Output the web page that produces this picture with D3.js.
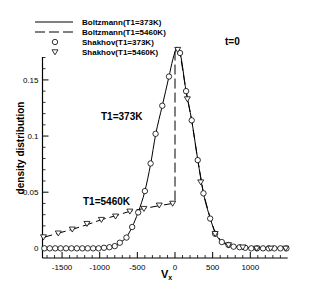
<!DOCTYPE html>
<html>
<head>
<meta charset="utf-8">
<script src="https://cdn.jsdelivr.net/npm/d3@7"></script>
<style>
  body { margin: 0; background: #fff; }
  svg { display: block; font-family: "Liberation Sans", Arial, sans-serif; }
</style>
</head>
<body>
<script>
// chart data
var xMajor = [-1500, -1000, -500, 0, 500, 1000];
var yMajor = [0, 0.05, 0.1, 0.15];
var yLabels = ["0", "0.05", "0.1", "0.15"];

// Boltzmann(T1=373K), solid line
var b373Vx = [-1760, -1400, -1100, -950, -880, -800, -733, -650, -570, -490, -400, -324, -258, -169, -80, -30, 0, 22, 67, 147, 222, 302, 378, 467, 533, 622, 711, 800, 900, 1100, 1497];
var b373Y = [0, 0, 0, 0.0005, 0.001, 0.002, 0.005, 0.0095, 0.019, 0.032, 0.051, 0.075, 0.101, 0.127, 0.153, 0.168, 0.175, 0.179, 0.174, 0.140, 0.114, 0.079, 0.049, 0.027, 0.014, 0.0056, 0.003, 0.0015, 0.0008, 0.0003, 0];

// Boltzmann(T1=5460K), dashed line
var b5460Vx = [-1760, -1550, -1360, -1170, -980, -790, -600, -410, -210, -30, 0, 0, 22, 67, 147, 222, 302, 378, 467, 533, 622, 711, 800, 900, 1100, 1497];
var b5460Y = [0.0095, 0.0135, 0.017, 0.021, 0.0255, 0.029, 0.033, 0.0355, 0.038, 0.040, 0.040, 0.175, 0.179, 0.174, 0.140, 0.114, 0.079, 0.049, 0.027, 0.014, 0.0056, 0.003, 0.0015, 0.0008, 0.0003, 0];

// Shakhov(T1=373K), circles
var s373Vx = [-1735, -1663, -1591, -1519, -1447, -1375, -1303, -1231, -1159, -1087, -1015, -943, -871, -800, -733, -645, -569, -489, -400, -324, -258, -169, -80, 67, 147, 222, 302, 378, 467, 533, 622, 711, 778, 858, 933, 1013, 1089, 1169, 1244, 1320, 1400, 1480];
var s373Y = [0, 0, 0, 0, 0, 0, 0, 0, 0, 0, 0, 0.0005, 0.001, 0.002, 0.005, 0.0096, 0.019, 0.032, 0.051, 0.0756, 0.102, 0.127, 0.153, 0.174, 0.140, 0.114, 0.0786, 0.049, 0.0265, 0.013, 0.0056, 0.003, 0.0015, 0.001, 0.0005, 0, 0, 0, 0, 0, 0, 0];

// Shakhov(T1=5460K), triangles
var s5460Vx = [-1747, -1550, -1364, -1169, -978, -790, -600, -413, -209, -31, 36, 164, 342, 533, 711, 900, 1085, 1270, 1470];
var s5460Y = [0.0101, 0.0135, 0.017, 0.022, 0.0256, 0.0286, 0.033, 0.0354, 0.0384, 0.040, 0.177, 0.133, 0.059, 0.013, 0.003, 0.001, 0, 0, 0];

var W = 327, H = 291;
var svg = d3.select("body").append("svg").attr("width", W).attr("height", H);

var x = d3.scaleLinear().domain([-1760, 1497]).range([42.5, 287.7]);
var y = d3.scaleLinear().domain([-0.0086, 0.19]).range([258, 35]);

// x axis, ticks pointing inward
var xMinor = d3.range(-1700, 1500, 100).filter(function (v) { return v % 500 != 0; });
var gx = svg.append("g").attr("transform", "translate(0,258)");
gx.append("line").attr("x1", x.range()[0]).attr("x2", x.range()[1]).attr("stroke", "#000").attr("stroke-width", 1.2);
gx.selectAll("line.minor").data(xMinor).enter().append("line").attr("class", "minor")
  .attr("x1", function (d) { return x(d); }).attr("x2", function (d) { return x(d); })
  .attr("y1", 0).attr("y2", -3).attr("stroke", "#000").attr("stroke-width", 0.8);
gx.selectAll("line.major").data(xMajor).enter().append("line").attr("class", "major")
  .attr("x1", function (d) { return x(d); }).attr("x2", function (d) { return x(d); })
  .attr("y1", 0).attr("y2", -6).attr("stroke", "#000").attr("stroke-width", 1);
gx.selectAll("text").data(xMajor).enter().append("text")
  .attr("x", function (d) { return x(d); }).attr("y", 12)
  .attr("text-anchor", "middle").attr("font-size", 8).text(function (d) { return d; });

// y axis
var yMinor = d3.range(0, 0.191, 0.01).filter(function (v) { return Math.round(v * 100) % 5 != 0; });
var gy = svg.append("g").attr("transform", "translate(42.5,0)");
gy.append("line").attr("y1", y.range()[0]).attr("y2", y.range()[1]).attr("stroke", "#000").attr("stroke-width", 1.2);
gy.selectAll("line.minor").data(yMinor).enter().append("line").attr("class", "minor")
  .attr("y1", function (d) { return y(d); }).attr("y2", function (d) { return y(d); })
  .attr("x1", 0).attr("x2", 3).attr("stroke", "#000").attr("stroke-width", 0.8);
gy.selectAll("line.major").data(yMajor).enter().append("line").attr("class", "major")
  .attr("y1", function (d) { return y(d); }).attr("y2", function (d) { return y(d); })
  .attr("x1", 0).attr("x2", 6).attr("stroke", "#000").attr("stroke-width", 1);
gy.selectAll("text").data(yMajor).enter().append("text")
  .attr("x", -4).attr("y", function (d) { return y(d) + 3; })
  .attr("text-anchor", "end").attr("font-size", 8).text(function (d, i) { return yLabels[i]; });

// axis titles
svg.append("text").attr("transform", "translate(24,148) rotate(-90)")
  .attr("text-anchor", "middle").attr("font-size", 10).attr("font-weight", "bold")
  .text("density distribution");
var vx = svg.append("text").attr("x", 161).attr("y", 278).attr("font-size", 11).attr("font-weight", "bold");
vx.append("tspan").text("V");
vx.append("tspan").attr("font-size", 7).attr("dy", 2).text("x");

// curves
var line = d3.line().x(function (d) { return x(d[0]); }).y(function (d) { return y(d[1]); });
svg.append("path").datum(d3.zip(b373Vx, b373Y)).attr("d", line.curve(d3.curveMonotoneX))
  .attr("fill", "none").attr("stroke", "#000").attr("stroke-width", 1);
svg.append("path").datum(d3.zip(b5460Vx, b5460Y)).attr("d", line.curve(d3.curveLinear))
  .attr("fill", "none").attr("stroke", "#000").attr("stroke-width", 1).attr("stroke-dasharray", "10,4");

// markers
function tri(cx, cy) {
  return "M" + (cx - 3) + "," + (cy - 2.2) + "L" + (cx + 3) + "," + (cy - 2.2) + "L" + cx + "," + (cy + 2.8) + "Z";
}
svg.selectAll("circle.s373").data(d3.zip(s373Vx, s373Y)).enter().append("circle").attr("class", "s373")
  .attr("cx", function (d) { return x(d[0]); }).attr("cy", function (d) { return y(d[1]); })
  .attr("r", 2.7).attr("fill", "#fff").attr("stroke", "#000").attr("stroke-width", 0.8);
svg.selectAll("path.s5460").data(d3.zip(s5460Vx, s5460Y)).enter().append("path").attr("class", "s5460")
  .attr("d", function (d) { return tri(x(d[0]), y(d[1])); })
  .attr("fill", "#fff").attr("stroke", "#000").attr("stroke-width", 0.8);

// annotations
svg.append("text").attr("x", 101).attr("y", 120).attr("font-size", 10).attr("font-weight", "bold").text("T1=373K");
svg.append("text").attr("x", 83).attr("y", 205).attr("font-size", 10).attr("font-weight", "bold").text("T1=5460K");
svg.append("text").attr("x", 225).attr("y", 45).attr("font-size", 10).attr("font-weight", "bold").text("t=0");

// legend
var leg = svg.append("g");
leg.append("rect").attr("x", 30).attr("y", 15).attr("width", 140).attr("height", 42).attr("fill", "#fff");
var names = ["Boltzmann(T1=373K)", "Boltzmann(T1=5460K)", "Shakhov(T1=373K)", "Shakhov(T1=5460K)"];
var rowY = [22, 32, 42, 52];
leg.append("line").attr("x1", 35).attr("x2", 73).attr("y1", rowY[0]).attr("y2", rowY[0]).attr("stroke", "#000");
leg.append("line").attr("x1", 35).attr("x2", 73).attr("y1", rowY[1]).attr("y2", rowY[1]).attr("stroke", "#000").attr("stroke-dasharray", "10,4");
leg.append("circle").attr("cx", 55).attr("cy", rowY[2]).attr("r", 2.7).attr("fill", "#fff").attr("stroke", "#000").attr("stroke-width", 0.8);
leg.append("path").attr("d", tri(55, rowY[3])).attr("fill", "#fff").attr("stroke", "#000").attr("stroke-width", 0.8);
leg.selectAll("text").data(names).enter().append("text")
  .attr("x", 82).attr("y", function (d, i) { return rowY[i] + 3; })
  .attr("font-size", 8).attr("font-weight", "bold").text(function (d) { return d; });
</script>
</body>
</html>
